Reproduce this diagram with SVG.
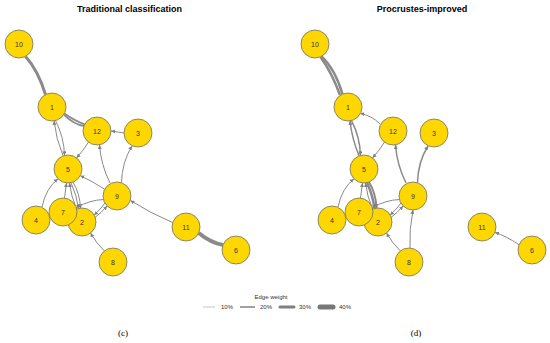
<svg xmlns="http://www.w3.org/2000/svg" width="550" height="343" viewBox="0 0 550 343">
<style>
.e{fill:none;stroke:#8a8a8a;stroke-width:1}
.m{marker-end:url(#a)}
.n circle{fill:#FFD700;stroke:#6e6e6e;stroke-width:0.8}
.n text{font-family:"Liberation Sans",Arial,sans-serif;font-size:7px;fill:#333;text-anchor:middle}
.t{font-family:"Liberation Sans",Arial,sans-serif;font-size:9px;font-weight:bold;fill:#000;text-anchor:middle}
.l{font-family:"Liberation Sans",Arial,sans-serif;font-size:6px;fill:#333}
.c{font-family:"Liberation Serif","Times New Roman",serif;font-size:9px;fill:#000;text-anchor:middle}
</style>
<defs>
<marker id="a" viewBox="0 0 10 10" refX="10" refY="5" markerWidth="4" markerHeight="4" markerUnits="userSpaceOnUse" orient="auto"><path d="M0,0L10,5L0,10z" fill="#808080"/></marker>
<g id="node" class="n"><circle r="14"/></g>
</defs>
<rect width="550" height="343" fill="#fff"/>
<text class="t" x="129.5" y="12">Traditional classification</text>
<text class="t" x="422" y="12">Procrustes-improved</text>

<g id="edges-left">
<path class="e" style="stroke-width:3" d="M25.5,56.4 Q38,70 45.5,94.6"/>
<path class="e" style="stroke-width:1.8" d="M64.3,113.6 Q75,121 84.7,124.4"/>
<path class="e" style="stroke-width:1.8" d="M64,114.8 Q74,124.5 84.3,126"/>
<path class="e m" d="M124,133 L111.2,131"/>
<path class="e m" d="M88.5,142.1 Q83,151 76.5,157.9"/>
<path class="e m" d="M55.5,120.6 Q64,137 64.5,155.4"/>
<path class="e m" d="M63,155.6 Q56,139 54,121"/>
<path class="e m" d="M110,183 Q101,165 99.5,145"/>
<path class="e m" d="M121.5,182.5 Q122,162 132,146"/>
<path class="e m" d="M104.7,189.2 Q92,181 80.3,175.8"/>
<path class="e m" d="M42,207 Q46,188 58,179"/>
<path class="e m" d="M64.5,198 L66.5,183"/>
<path class="e m" d="M71,182.7 Q77,196 78.5,208.5"/>
<path class="e m" d="M73,182 Q80,194 80.5,208.2"/>
<path class="e m" d="M76.5,208.7 Q71,196 69.5,183"/>
<path class="e m" d="M103.5,199.5 Q90,200 76.5,207.5"/>
<path class="e m" d="M105,203 Q100,210 94,215"/>
<path class="e m" d="M95,217.5 Q101,213 107,206"/>
<path class="e m" d="M104.4,250.9 Q96,243 90.6,233.1"/>
<path class="e m" d="M172.5,222.5 Q150,213 130.5,200.5"/>
<path class="e" style="stroke-width:4" d="M198.7,233 Q211,243 223.3,245"/>
</g>

<g id="edges-right" transform="translate(296,0)">
<path class="e" style="stroke-width:2.5" d="M25.5,56.4 Q39,69 46.5,94.2"/>
<path class="e" style="stroke-width:2.5" d="M24.5,57 Q35.5,72 44,95"/>
<path class="e m" d="M84.6,124.4 Q75,115 64.3,113.6"/>
<path class="e m" style="stroke-width:1.5" d="M55.5,120.6 Q64,137 64.5,155.4"/>
<path class="e m" style="stroke-width:1.5" d="M63,155.6 Q56,139 54,121"/>
<path class="e m" d="M88.5,142.1 Q83,151 76.5,157.9"/>
<path class="e m" style="stroke-width:1.5" d="M110,183 Q101,165 99.5,145"/>
<path class="e m" style="stroke-width:1.5" d="M121.5,182.5 Q122,162 132,146"/>
<path class="e m" d="M42,207 Q46,188 58,179"/>
<path class="e m" d="M64.5,198 L66.5,183"/>
<path class="e m" style="stroke-width:2.5" d="M71,182.7 Q77,196 78.5,208.5"/>
<path class="e m" style="stroke-width:2" d="M73,182 Q80,194 80.5,208.2"/>
<path class="e m" d="M76.5,208.7 Q71,196 69.5,183"/>
<path class="e m" d="M103.5,199.5 Q90,200 76.5,207.5"/>
<path class="e m" d="M105,203 Q100,210 94,215"/>
<path class="e m" d="M95,217.5 Q101,213 107,206"/>
<path class="e m" d="M104.4,250.9 Q96,243 90.6,233.1"/>
<path class="e m" d="M114,248 Q113,230 117,210"/>
<path class="e m" d="M223.5,245 Q210,236 199,232.5"/>
</g>

<g id="nodes-left">
<g id="L10" class="n"><circle cx="19" cy="44" r="14"/><text x="19" y="46.5">10</text></g>
<g id="L1" class="n"><circle cx="52" cy="107" r="14"/><text x="52" y="109.5">1</text></g>
<g id="L12" class="n"><circle cx="97" cy="131" r="14"/><text x="97" y="133.5">12</text></g>
<g id="L3" class="n"><circle cx="138" cy="133" r="14"/><text x="138" y="135.5">3</text></g>
<g id="L5" class="n"><circle cx="68" cy="169" r="14"/><text x="68" y="171.5">5</text></g>
<g id="L9" class="n"><circle cx="117" cy="196" r="14"/><text x="117" y="198.5">9</text></g>
<g id="L4" class="n"><circle cx="36" cy="220" r="14"/><text x="36" y="222.5">4</text></g>
<g id="L2" class="n"><circle cx="82" cy="222" r="14"/><text x="82" y="224.5">2</text></g>
<g id="L7" class="n"><circle cx="63" cy="212" r="14"/><text x="63" y="214.5">7</text></g>
<g id="L8" class="n"><circle cx="113" cy="262" r="14"/><text x="113" y="264.5">8</text></g>
<g id="L11" class="n"><circle cx="186" cy="227" r="14"/><text x="186" y="229.5">11</text></g>
<g id="L6" class="n"><circle cx="236" cy="250" r="14"/><text x="236" y="252.5">6</text></g>
</g>

<g id="nodes-right" transform="translate(296,0)">
<g id="R10" class="n"><circle cx="19" cy="44" r="14"/><text x="19" y="46.5">10</text></g>
<g id="R1" class="n"><circle cx="52" cy="107" r="14"/><text x="52" y="109.5">1</text></g>
<g id="R12" class="n"><circle cx="97" cy="131" r="14"/><text x="97" y="133.5">12</text></g>
<g id="R3" class="n"><circle cx="138" cy="133" r="14"/><text x="138" y="135.5">3</text></g>
<g id="R5" class="n"><circle cx="68" cy="169" r="14"/><text x="68" y="171.5">5</text></g>
<g id="R9" class="n"><circle cx="117" cy="196" r="14"/><text x="117" y="198.5">9</text></g>
<g id="R4" class="n"><circle cx="36" cy="220" r="14"/><text x="36" y="222.5">4</text></g>
<g id="R2" class="n"><circle cx="82" cy="222" r="14"/><text x="82" y="224.5">2</text></g>
<g id="R7" class="n"><circle cx="63" cy="212" r="14"/><text x="63" y="214.5">7</text></g>
<g id="R8" class="n"><circle cx="113" cy="262" r="14"/><text x="113" y="264.5">8</text></g>
<g id="R11" class="n"><circle cx="186" cy="227" r="14"/><text x="186" y="229.5">11</text></g>
<g id="R6" class="n"><circle cx="236" cy="250" r="14"/><text x="236" y="252.5">6</text></g>
</g>

<g id="legend">
<text class="l" x="271" y="299" text-anchor="middle">Edge weight</text>
<line x1="203" y1="307" x2="215" y2="307" stroke="#c4c4c4" stroke-width="1"/>
<line x1="240" y1="307" x2="255" y2="307" stroke="#8a8a8a" stroke-width="1.6"/>
<line x1="280" y1="307" x2="294" y2="307" stroke="#808080" stroke-width="3" stroke-linecap="round"/>
<line x1="320" y1="307" x2="333" y2="307" stroke="#777" stroke-width="5" stroke-linecap="round"/>
<text class="l" x="221" y="309">10%</text>
<text class="l" x="260" y="309">20%</text>
<text class="l" x="299" y="309">30%</text>
<text class="l" x="339" y="309">40%</text>
</g>

<text class="c" x="123" y="336">(c)</text>
<text class="c" x="416" y="336">(d)</text>
</svg>
